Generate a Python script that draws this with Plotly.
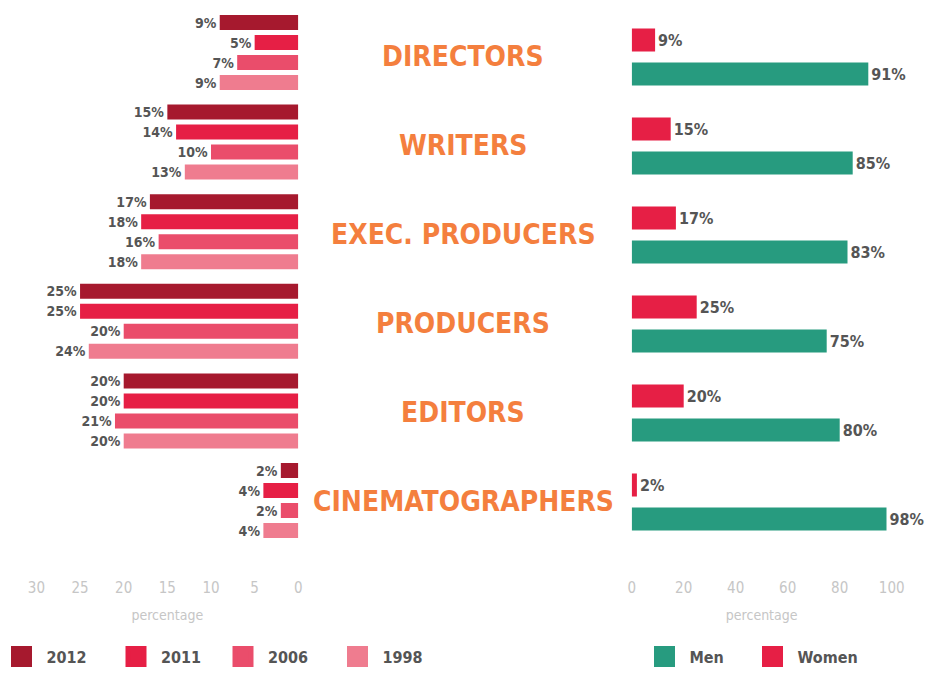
import plotly.graph_objects as go

# ---------------- data ----------------
roles = ["DIRECTORS", "WRITERS", "EXEC. PRODUCERS", "PRODUCERS", "EDITORS", "CINEMATOGRAPHERS"]
years = ["2012", "2011", "2006", "1998"]
women_2012 = [9, 15, 17, 25, 20, 2]
women_2011 = [5, 14, 18, 25, 20, 4]
women_2006 = [7, 10, 16, 20, 21, 2]
women_1998 = [9, 13, 18, 24, 20, 4]
men_share = [91, 85, 83, 75, 80, 98]
women_share = [9, 15, 17, 25, 20, 2]
left_ticks = [30, 25, 20, 15, 10, 5, 0]
right_ticks = [0, 20, 40, 60, 80, 100]

# ---------------- styles ----------------
# page body has an 8px margin, so the figure is 934-16 x 676-16 and
# all layout positions below are given in window pixels (minus the 8px offset)
OFF = 8
W, H = 934 - 2 * OFF, 676 - 2 * OFF


def fx(px):
    return (px - OFF) / W


def fy(px):
    return 1 - (px - OFF) / H


COND = "DejaVu Sans Condensed, Liberation Sans Narrow, sans-serif"
ORANGE = "#F47F3E"
LABEL = "#555555"
TICK = "#C6C6C6"
year_colors = ["#A6192E", "#E61F45", "#EA4D6B", "#EF7C8F"]
MEN = "#279B7F"
WOMEN = "#E61F45"

TOP = OFF        # plot top (window px)
B = 577          # plot bottom (window px)
PX_L = 89.6      # px per group (left)
C_L = 52.5       # first group centre (left)
PX_R = 89.0
C_R = 57.0
LEG_Y = 656.5    # legend row centre (window px)

fig = go.Figure()

left_series = [women_2012, women_2011, women_2006, women_1998]
bw_l = 15 / PX_L
for k, (yr, vals, col) in enumerate(zip(years, left_series, year_colors)):
    c = (k - 1.5) * 20 / PX_L
    fig.add_trace(go.Bar(
        y=list(range(len(roles))), x=vals, orientation="h",
        offset=c - bw_l / 2, width=bw_l,
        marker=dict(color=col, line=dict(width=0)),
        text=[f"{v}%" for v in vals], textposition="outside",
        constraintext="none", cliponaxis=False,
        textfont=dict(family=COND, size=14, color=LABEL, weight=700),
        showlegend=False, xaxis="x", yaxis="y", name=yr,
    ))

bw_r = 23 / PX_R
for name, vals, col, c in [("Women", women_share, WOMEN, -17 / PX_R),
                           ("Men", men_share, MEN, 17 / PX_R)]:
    fig.add_trace(go.Bar(
        y=list(range(len(roles))), x=vals, orientation="h",
        offset=c - bw_r / 2, width=bw_r,
        marker=dict(color=col, line=dict(width=0)),
        text=[f"{v}%" for v in vals], textposition="outside",
        constraintext="none", cliponaxis=False,
        textfont=dict(family=COND, size=16, color=LABEL, weight=700),
        showlegend=False, xaxis="x2", yaxis="y2", name=name,
    ))

# legend entries, one legend per entry for exact placement
legend_items = [("2012", year_colors[0], 21.5), ("2011", year_colors[1], 136),
                ("2006", year_colors[2], 243), ("1998", year_colors[3], 357.5),
                ("Men", MEN, 664.5), ("Women", WOMEN, 772.5)]
layout_legends = {}
for j, (name, col, cx) in enumerate(legend_items):
    lid = "legend" if j == 0 else f"legend{j + 1}"
    fig.add_trace(go.Scatter(
        x=[None], y=[None], mode="markers", name=name, legend=lid,
        marker=dict(symbol="square", size=16, color=col, line=dict(color=col, width=5)),
        xaxis="x", yaxis="y"))
    layout_legends[lid] = dict(
        xref="paper", yref="paper", x=fx(cx - 25), xanchor="left",
        y=fy(LEG_Y), yanchor="middle", itemwidth=40, bgcolor="rgba(0,0,0,0)",
        orientation="h", entrywidth=80, entrywidthmode="pixels",
        borderwidth=0, font=dict(family=COND, size=16, color=LABEL, weight=700),
        itemclick=False, itemdoubleclick=False)

ann = []
for i, r in enumerate(roles):
    ann.append(dict(text=r, x=fx(463), xref="paper", y=i, yref="y2", yshift=1,
                    showarrow=False, xanchor="center", yanchor="middle",
                    font=dict(family=COND, size=28, color=ORANGE, weight=700)))

axis_common = dict(showgrid=False, zeroline=False, showline=False, ticks="", automargin=False,
                   tickfont=dict(family=COND, size=15, color=TICK),
                   title=dict(text="percentage", font=dict(family=COND, size=14, color=TICK), standoff=14))

ydom = [fy(B), fy(TOP)]
fig.update_layout(
    width=W, height=H, margin=dict(l=0, r=0, t=0, b=0, autoexpand=False),
    paper_bgcolor="white", plot_bgcolor="white",
    barmode="overlay",
    xaxis=dict(domain=[fx(36.4), fx(298.3)], range=[30, 0], anchor="y",
               tickvals=left_ticks, **axis_common),
    xaxis2=dict(domain=[fx(631.7), fx(891.7)], range=[0, 100], anchor="y2",
                tickvals=right_ticks, **axis_common),
    yaxis=dict(domain=ydom, range=[(B - C_L) / PX_L, (TOP - C_L) / PX_L], automargin=False,
               showgrid=False, zeroline=False, showticklabels=False, showline=False),
    yaxis2=dict(domain=ydom, range=[(B - C_R) / PX_R, (TOP - C_R) / PX_R], anchor="x2",
                automargin=False,
                showgrid=False, zeroline=False, showticklabels=False, showline=False),
    annotations=ann,
    showlegend=True,
    **layout_legends,
)

fig.write_html("out.html")
